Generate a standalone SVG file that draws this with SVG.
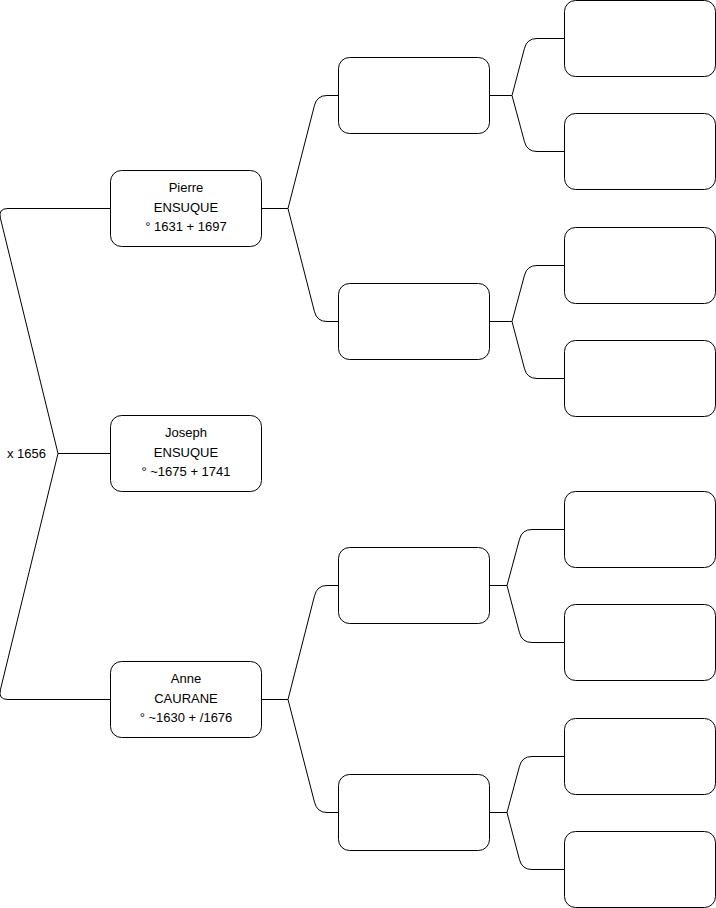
<svg xmlns="http://www.w3.org/2000/svg" width="716" height="908" viewBox="0 0 716 908">
<style>
.box{fill:#fff;stroke:#000;stroke-width:1}
.edge{fill:none;stroke:#000;stroke-width:1}
text{font-family:"Liberation Sans",Arial,Helvetica,sans-serif;font-size:13px;fill:#000}
.c{text-anchor:middle}
</style>
<rect width="716" height="908" fill="#fff"/>
<g id="connectors">
<path class="edge" d="M58,453.5 H110.5"/>
<path class="edge" d="M58,453.5 L0.4,218.2 Q-2,208.5 8,208.5 H110.5"/>
<path class="edge" d="M58,453.5 L0.4,689.8 Q-2,699.5 8,699.5 H110.5"/>
<text x="7" y="458">x 1656</text>
<path class="edge" d="M261.5,208.5 H288 L314.5,105.2 Q317,95.5 327,95.5 H338.5"/>
<path class="edge" d="M288,208.5 L314.5,311.8 Q317,321.5 327,321.5 H338.5"/>
<path class="edge" d="M261.5,699.5 H288 L314.5,595.8 Q317,585.5 327,585.5 H338.5"/>
<path class="edge" d="M288,699.5 L314.5,802.2 Q317,812.5 327,812.5 H338.5"/>
<path class="edge" d="M489.5,95.5 H512 L524.5,48.2 Q527,38.5 537,38.5 H564.5"/>
<path class="edge" d="M512,95.5 L524.5,141.8 Q527,151.5 537,151.5 H564.5"/>
<path class="edge" d="M489.5,321.5 H512 L524.5,275.2 Q527,265.5 537,265.5 H564.5"/>
<path class="edge" d="M512,321.5 L524.5,368.8 Q527,378.5 537,378.5 H564.5"/>
<path class="edge" d="M489.5,585.5 H507 L519.5,539.2 Q522,529.5 532,529.5 H564.5"/>
<path class="edge" d="M507,585.5 L519.5,632.8 Q522,642.5 532,642.5 H564.5"/>
<path class="edge" d="M489.5,812.5 H507 L519.5,766.2 Q522,756.5 532,756.5 H564.5"/>
<path class="edge" d="M507,812.5 L519.5,859.8 Q522,869.5 532,869.5 H564.5"/>
</g>
<g id="pierre">
<rect class="box" x="110.5" y="170.5" width="151" height="76" rx="11"/>
<text class="c" x="186" y="191.5">Pierre</text>
<text class="c" x="186" y="211.5">ENSUQUE</text>
<text class="c" x="186" y="231">° 1631 + 1697</text>
</g>
<g id="joseph">
<rect class="box" x="110.5" y="415.5" width="151" height="76" rx="11"/>
<text class="c" x="186" y="436.5">Joseph</text>
<text class="c" x="186" y="456.5">ENSUQUE</text>
<text class="c" x="186" y="476">° ~1675 + 1741</text>
</g>
<g id="anne">
<rect class="box" x="110.5" y="661.5" width="151" height="76" rx="11"/>
<text class="c" x="186" y="682.5">Anne</text>
<text class="c" x="186" y="702.5">CAURANE</text>
<text class="c" x="186" y="722">° ~1630 + /1676</text>
</g>
<g id="p-parents-1"><rect class="box" x="338.5" y="57.5" width="151" height="76" rx="11"/></g>
<g id="p-parents-2"><rect class="box" x="338.5" y="283.5" width="151" height="76" rx="11"/></g>
<g id="a-parents-1"><rect class="box" x="338.5" y="547.5" width="151" height="76" rx="11"/></g>
<g id="a-parents-2"><rect class="box" x="338.5" y="774.5" width="151" height="76" rx="11"/></g>
<g id="g3-1"><rect class="box" x="564.5" y="0.5" width="151" height="76" rx="11"/></g>
<g id="g3-2"><rect class="box" x="564.5" y="113.5" width="151" height="76" rx="11"/></g>
<g id="g3-3"><rect class="box" x="564.5" y="227.5" width="151" height="76" rx="11"/></g>
<g id="g3-4"><rect class="box" x="564.5" y="340.5" width="151" height="76" rx="11"/></g>
<g id="g3-5"><rect class="box" x="564.5" y="491.5" width="151" height="76" rx="11"/></g>
<g id="g3-6"><rect class="box" x="564.5" y="604.5" width="151" height="76" rx="11"/></g>
<g id="g3-7"><rect class="box" x="564.5" y="718.5" width="151" height="76" rx="11"/></g>
<g id="g3-8"><rect class="box" x="564.5" y="831.5" width="151" height="76" rx="11"/></g>
</svg>
